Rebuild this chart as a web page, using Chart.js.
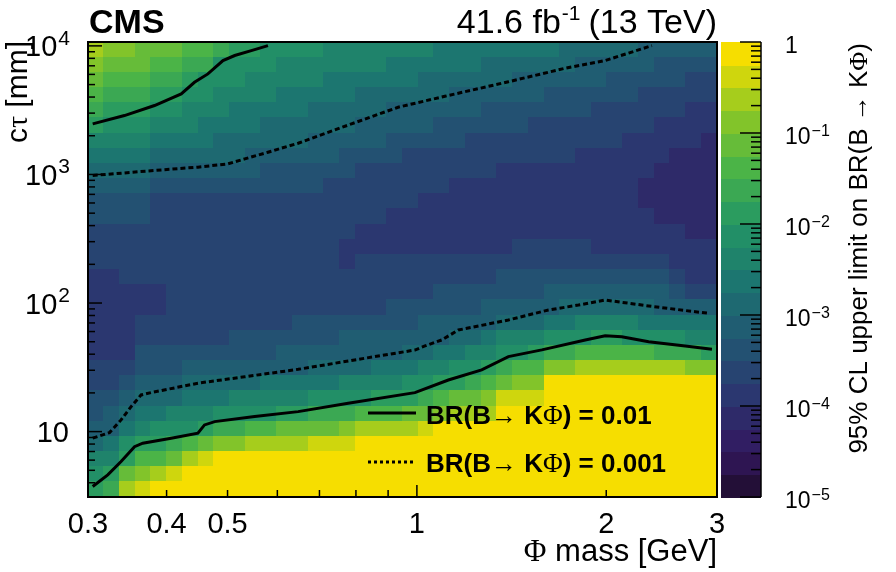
<!DOCTYPE html>
<html><head><meta charset="utf-8">
<script src="https://cdn.jsdelivr.net/npm/chart.js@4.4.1/dist/chart.umd.min.js"></script>
<style>html,body{margin:0;padding:0;background:#fff;}#wrap{width:896px;height:572px;position:relative;}</style>
</head><body><div id="wrap"><canvas id="c"></canvas></div>
<script>
// ---------- data ----------
// mass axis (GeV) and ctau axis (mm) ranges of the scan
const massRange = [0.3, 3];
const ctauRange = [3.1, 10720];
const nMassBins = 40, nCtauBins = 30;
// colour level of the 95% CL limit on BR(B->K Phi):
// level k means limit in [1e-5 * 10^(k/4), 1e-5 * 10^((k+1)/4)), 0..19 (1e-5 .. 1)
// one array per mass bin (low -> high mass), entries from high ctau (top) to low ctau (bottom)
const limitLevel = [
 [17,16,15,14,13,12,10,9,8,7,6,6,5,5,5,4,4,4,4,4,4,5,5,6,6,7,8,10,11,12],
 [16,15,14,13,12,11,10,9,8,7,6,6,5,5,5,4,4,4,4,4,4,5,5,6,7,7,9,10,12,13],
 [16,15,14,13,12,11,10,9,8,7,6,6,5,5,5,5,4,4,4,4,4,5,6,7,8,9,11,12,15,17],
 [15,15,14,13,12,11,10,9,8,7,6,6,5,5,5,5,4,4,5,5,6,6,7,8,9,10,12,14,16,18],
 [15,14,13,12,11,10,9,8,7,6,5,5,5,5,5,5,4,4,5,5,6,6,7,8,9,11,12,14,17,19],
 [15,14,13,12,11,10,9,8,7,6,5,5,5,5,5,5,5,5,5,5,6,6,7,8,10,11,13,15,18,19],
 [14,13,12,11,10,10,9,8,7,6,5,5,5,5,5,5,5,5,5,5,6,7,8,9,10,11,14,17,19,19],
 [14,13,11,11,10,9,9,8,7,6,5,5,5,5,5,5,5,5,5,5,6,7,8,9,10,12,15,18,19,19],
 [13,11,11,10,10,9,8,8,7,6,5,5,5,5,5,5,5,5,5,5,6,7,8,9,11,13,16,19,19,19],
 [12,11,11,10,9,9,8,8,7,6,5,5,5,5,5,5,5,5,5,6,6,7,8,10,11,13,16,19,19,19],
 [12,11,10,10,9,9,8,7,7,6,5,5,5,5,5,5,5,5,5,6,6,7,8,10,11,14,17,19,19,19],
 [11,11,10,10,9,8,8,7,6,6,5,5,5,5,5,5,5,5,5,6,6,7,9,10,11,14,17,19,19,19],
 [11,10,10,9,9,8,8,7,6,6,5,5,5,5,5,5,5,5,5,6,7,7,9,10,12,15,17,19,19,19],
 [11,10,10,9,9,8,8,7,6,6,5,5,5,5,5,5,5,5,6,6,7,7,9,10,12,15,17,19,19,19],
 [11,10,10,9,8,8,7,7,6,6,5,5,5,5,5,5,5,5,6,6,7,8,9,11,13,15,18,19,19,19],
 [10,10,9,9,8,8,7,7,6,5,5,5,5,5,5,5,5,5,6,6,7,8,9,11,13,15,18,19,19,19],
 [10,10,9,9,8,8,7,6,6,5,5,5,5,4,4,5,5,5,6,7,7,8,10,11,13,16,18,19,19,19],
 [10,10,9,8,8,7,7,6,5,5,5,5,4,4,5,5,5,5,6,7,7,8,10,11,14,17,19,19,19,19],
 [10,10,9,8,8,7,7,6,5,5,5,5,4,4,5,5,5,5,6,7,7,9,10,12,14,17,19,19,19,19],
 [10,9,9,8,7,7,6,6,5,5,5,4,4,4,5,5,5,6,6,7,7,9,10,12,14,17,19,19,19,19],
 [10,9,9,8,7,7,6,5,5,5,5,4,4,4,5,5,5,6,6,7,8,9,11,12,15,17,19,19,19,19],
 [10,9,8,8,7,7,6,5,5,5,4,4,4,4,5,5,5,6,7,7,8,10,11,13,15,18,19,19,19,19],
 [9,9,8,8,7,6,6,5,5,5,4,4,4,4,5,5,6,6,7,7,9,10,12,14,16,19,19,19,19,19],
 [9,9,8,7,7,6,6,5,5,4,4,4,4,4,5,5,6,6,7,8,9,11,12,15,17,19,19,19,19,19],
 [9,9,8,7,7,6,5,5,5,4,4,4,4,4,5,5,6,6,7,8,10,11,13,15,17,19,19,19,19,19],
 [9,8,8,7,6,6,5,5,5,4,4,4,4,4,5,5,6,7,7,9,10,12,14,16,17,19,19,19,19,19],
 [9,8,8,7,6,6,5,5,4,4,4,4,4,4,5,6,6,7,8,10,11,13,15,18,19,19,19,19,19,19],
 [9,8,7,7,6,6,5,5,4,4,4,4,4,5,5,6,6,7,8,10,11,14,16,18,19,19,19,19,19,19],
 [9,8,7,7,6,5,5,5,4,4,4,4,4,5,5,6,6,7,8,10,12,14,16,18,19,19,19,19,19,19],
 [9,8,7,6,6,5,5,5,4,4,4,4,4,5,5,6,7,7,9,11,13,16,19,19,19,19,19,19,19,19],
 [8,8,7,6,6,5,5,5,4,4,4,4,4,5,5,6,7,8,9,11,13,16,19,19,19,19,19,19,19,19],
 [8,7,7,6,6,5,5,4,4,4,4,4,4,5,5,6,7,8,10,11,14,17,19,19,19,19,19,19,19,19],
 [8,7,7,6,5,5,5,4,4,4,4,4,4,4,5,6,7,8,10,12,14,17,19,19,19,19,19,19,19,19],
 [8,7,6,6,5,5,5,4,4,4,4,4,4,4,5,6,7,8,10,12,14,17,19,19,19,19,19,19,19,19],
 [8,7,6,6,5,5,4,4,4,4,4,4,4,4,5,6,7,8,10,11,14,17,19,19,19,19,19,19,19,19],
 [7,7,6,5,5,5,4,4,4,3,3,4,4,4,5,6,7,8,9,11,14,17,19,19,19,19,19,19,19,19],
 [7,6,6,5,5,4,4,4,3,3,3,3,4,4,5,6,7,7,9,11,13,17,19,19,19,19,19,19,19,19],
 [7,6,6,5,5,4,4,3,3,3,3,3,4,4,4,5,6,7,9,11,13,17,19,19,19,19,19,19,19,19],
 [7,6,5,5,4,4,4,3,3,3,3,3,3,4,4,4,5,7,9,10,13,16,19,19,19,19,19,19,19,19],
 [7,6,5,5,4,4,3,3,3,3,3,3,3,4,4,4,5,7,9,10,12,16,19,19,19,19,19,19,19,19]
];
// contour lines (mass GeV, ctau mm)
const upperSolidMass = [0.3052,0.3428,0.3827,0.422,0.443,0.4653,0.4917,0.5133,0.5454,0.5797];
const upperSolidCtau = [2473,2871,3436,4227,5212,6053,7690,8414,9185,10050];
const lowerSolidMass = [0.3052,0.3225,0.3386,0.3557,0.3666,0.4068,0.4486,0.4596,0.477,0.5522,0.6475,0.7777,0.9928,1.122,1.2676,1.398,1.58,1.852,1.992,2.117,2.336,2.671,2.945];
const lowerSolidCtau = [3.74,4.61,5.85,7.64,8.13,8.89,9.72,11.27,11.96,13.08,14.3,16.62,20.1,25.2,30.2,38.3,43.2,51.6,55.7,54.7,50.0,46.4,43.7];
const upperDashedMass = [0.3052,0.3827,0.4486,0.5006,0.5325,0.5797,0.6475,0.787,0.9336,1.108,1.398,1.721,1.992,2.092,2.364];
const upperDashedCtau = [982,1074,1140,1208,1321,1489,1750,2473,3334,4055,5260,6700,7690,8300,10050];
const lowerDashedMass = [0.3052,0.3245,0.3386,0.3513,0.3643,0.3779,0.4486,0.5325,0.6475,0.8266,0.9928,1.03,1.095,1.164,1.398,1.619,1.807,1.992,2.336,2.772,2.91];
const lowerDashedCtau = [8.89,9.82,12.33,15.64,19.28,20.1,23.8,26.7,30.5,37.2,43.1,46.4,51.6,61.7,73.8,88.3,96.4,105.5,94.9,85.5,83.2];
// tick labels
const massTickValues = [0.4,0.5,0.6,0.7,0.8,0.9,1,2];
const massLabelValues = [0.3,0.4,0.5,1,2,3];
const massLabels = ['0.3','0.4','0.5','1','2','3'];
const ctauLabelValues = [10,100,1000,10000];
const ctauLabels = [['10',''],['10','2'],['10','3'],['10','4']];
const limitLabelValues = [1,1e-1,1e-2,1e-3,1e-4,1e-5];
const limitLabels = [['1',''],['10','\u22121'],['10','\u22122'],['10','\u22123'],['10','\u22124'],['10','\u22125']];
const legendLabels = ['BR(B\u2192 K\u03A6) = 0.01','BR(B\u2192 K\u03A6) = 0.001'];

// ---------- derived bin edges ----------
const massEdges = [], ctauEdges = [];
for (let i = 0; i <= nMassBins; i++) massEdges.push(massRange[0] * Math.pow(massRange[1]/massRange[0], i/nMassBins));
for (let j = 0; j <= nCtauBins; j++) ctauEdges.push(ctauRange[1] * Math.pow(ctauRange[0]/ctauRange[1], j/nCtauBins));

// ---------- palette (ROOT kViridis) ----------
const stopT=[0,.125,.25,.375,.5,.625,.75,.875,1];
const stopR=[26,51,43,33,28,35,74,144,246], stopG=[9,24,55,87,118,150,180,200,222], stopB=[30,96,112,114,112,101,72,35,0];
function viridis(t){
  t=Math.max(0,Math.min(1,t));
  let s=0; while(s<7 && t>stopT[s+1]) s++;
  const f=(t-stopT[s])/(stopT[s+1]-stopT[s]);
  const c=a=>Math.round(a[s]+(a[s+1]-a[s])*f);
  return `rgb(${c(stopR)},${c(stopG)},${c(stopB)})`;
}
const bandColors=[]; for(let k=0;k<20;k++){ bandColors.push(viridis(Math.floor((k+0.99)*255/20)/254)); }
function colorForLimit(v){ let k=Math.floor((Math.log10(v)+5)*4); k=Math.max(0,Math.min(19,k)); return bandColors[k]; }
function limitFromLevel(k){ return Math.pow(10,-5+(k+0.5)/4); }

const SANS='"Liberation Sans", Arial, Helvetica, sans-serif';
const SERIF='"Liberation Serif", "DejaVu Serif", serif';
const pts=(m,c)=>m.map((v,i)=>({x:v,y:c[i]}));

const heatmapPlugin={
  id:'heatmap',
  beforeDatasetsDraw(chart){
    const {ctx,chartArea:a,scales:{x,y}}=chart;
    ctx.save(); ctx.beginPath(); ctx.rect(a.left,a.top,a.right-a.left,a.bottom-a.top); ctx.clip();
    for(let i=0;i<limitLevel.length;i++){
      const x0=x.getPixelForValue(massEdges[i]), x1=x.getPixelForValue(massEdges[i+1]);
      for(let j=0;j<limitLevel[i].length;j++){
        const y0=y.getPixelForValue(ctauEdges[j]), y1=y.getPixelForValue(ctauEdges[j+1]);
        ctx.fillStyle=colorForLimit(limitFromLevel(limitLevel[i][j]));
        ctx.fillRect(Math.floor(x0),Math.floor(y0),Math.ceil(x1-x0)+1,Math.ceil(y1-y0)+1);
      }
    }
    ctx.restore();
  }
};

// draw runs of text [{t,f,dy,gap}] starting/ending at x
function runs(ctx,parts,x,y,align){
  let tot=0; const ws=parts.map(p=>{ctx.font=p.f; const w=ctx.measureText(p.t).width+(p.gap||0); tot+=w; return w;});
  let sx = align==='right'? x-tot : x;
  ctx.textAlign='left';
  parts.forEach((p,i)=>{ ctx.font=p.f; ctx.fillText(p.t,sx,y+(p.dy||0)); sx+=ws[i]; });
}
function supText(ctx,base,sup,x,y,align,bf,sf,raise){
  const parts=[{t:base,f:bf,gap:1}]; if(sup) parts.push({t:sup,f:sf,dy:-raise});
  runs(ctx,parts,x,y,align);
}

const decorPlugin={
  id:'decor',
  afterDraw(chart){
    const {ctx,chartArea:a,scales:{x,y,yColor}}=chart;
    ctx.save();
    ctx.fillStyle='#000'; ctx.strokeStyle='#000'; ctx.textBaseline='alphabetic';
    // frame
    ctx.lineWidth=2; ctx.strokeRect(a.left,a.top,a.right-a.left,a.bottom-a.top);
    // x ticks
    ctx.lineWidth=1.5;
    massTickValues.forEach(v=>{const px=x.getPixelForValue(v); const L=(v===1)?12:7; ctx.beginPath(); ctx.moveTo(px,a.bottom); ctx.lineTo(px,a.bottom-L); ctx.stroke();});
    // y ticks
    for(let d=1; d<=10000; d*=10){ for(let m=1;m<=9;m++){ const v=d*m; if(v<ctauRange[0]||v>ctauRange[1]) continue; const py=y.getPixelForValue(v); const L=(m===1)?14:7; ctx.beginPath(); ctx.moveTo(a.left,py); ctx.lineTo(a.left+L,py); ctx.stroke(); } }
    // x labels
    ctx.font='29px '+SANS; ctx.textAlign='center';
    massLabelValues.forEach((v,i)=>{ctx.fillText(massLabels[i], x.getPixelForValue(v), 533);});
    // y labels
    ctauLabelValues.forEach((v,i)=>{ const py=y.getPixelForValue(v); supText(ctx,ctauLabels[i][0],ctauLabels[i][1],70,py+10.5,'right','29px '+SANS,'21px '+SANS,11.5); });
    // colour bar
    const cbL=721, cbR=761;
    for(let k=0;k<20;k++){
      const y0=yColor.getPixelForValue(Math.pow(10,-5+(k+1)/4)), y1=yColor.getPixelForValue(Math.pow(10,-5+k/4));
      ctx.fillStyle=bandColors[k]; ctx.fillRect(cbL,Math.floor(y0),cbR-cbL,Math.ceil(y1-y0)+1);
    }
    ctx.fillStyle='#000'; ctx.lineWidth=1.5;
    ctx.beginPath(); ctx.moveTo(cbR,a.top); ctx.lineTo(cbR,a.bottom); ctx.stroke();
    for(let e=-5;e<=0;e++){ for(let m=1;m<=9;m++){ const v=Math.pow(10,e)*m; if(v>1.0001) continue; const py=yColor.getPixelForValue(v); const L=(m===1)?21:10; ctx.beginPath(); ctx.moveTo(cbR,py); ctx.lineTo(cbR-L,py); ctx.stroke(); } }
    limitLabelValues.forEach((v,i)=>{ const py=yColor.getPixelForValue(v); supText(ctx,limitLabels[i][0],limitLabels[i][1],785,py+11,'left','23px '+SANS,'16px '+SANS,8); });
    // axis titles
    runs(ctx,[{t:'\u03A6',f:'31px '+SERIF},{t:' mass [GeV]',f:'31px '+SANS}],a.right,561,'right');
    ctx.save(); ctx.translate(27,a.top-1); ctx.rotate(-Math.PI/2);
    runs(ctx,[{t:'c',f:'30px '+SANS},{t:'\u03C4',f:'30px '+SERIF},{t:' [mm]',f:'30px '+SANS}],0,0,'right'); ctx.restore();
    ctx.save(); ctx.translate(867,43); ctx.rotate(-Math.PI/2);
    runs(ctx,[{t:'95% CL upper limit on BR(B \u2192 K',f:'26px '+SANS},{t:'\u03A6',f:'26px '+SERIF},{t:')',f:'26px '+SANS}],0,0,'right'); ctx.restore();
    // header
    ctx.font='bold 34px '+SANS; ctx.textAlign='left'; ctx.fillText('CMS',89,33);
    runs(ctx,[{t:'41.6 fb',f:'34px '+SANS,gap:1},{t:'-1',f:'21px '+SANS,dy:-13,gap:8},{t:'(13 TeV)',f:'34px '+SANS}],a.right,33,'right');
    // legend
    ctx.lineWidth=3; ctx.setLineDash([]); ctx.beginPath(); ctx.moveTo(368,413); ctx.lineTo(416,413); ctx.stroke();
    ctx.setLineDash([3,3]); ctx.beginPath(); ctx.moveTo(368,462); ctx.lineTo(416,462); ctx.stroke(); ctx.setLineDash([]);
    const lb='bold 26px '+SANS, ls='27px '+SERIF;
    runs(ctx,[{t:'BR(B\u2192 K',f:lb},{t:'\u03A6',f:ls},{t:') = 0.01',f:lb}],426,424,'left');
    runs(ctx,[{t:'BR(B\u2192 K',f:lb},{t:'\u03A6',f:ls},{t:') = 0.001',f:lb}],426,472,'left');
    ctx.restore();
  }
};

new Chart(document.getElementById('c'),{
  type:'scatter',
  data:{datasets:[
    {label:legendLabels[0],data:pts(upperSolidMass,upperSolidCtau),showLine:true,borderColor:'#000',borderWidth:3,pointRadius:0,tension:0},
    {label:legendLabels[0],data:pts(lowerSolidMass,lowerSolidCtau),showLine:true,borderColor:'#000',borderWidth:3,pointRadius:0,tension:0},
    {label:legendLabels[1],data:pts(upperDashedMass,upperDashedCtau),showLine:true,borderColor:'#000',borderWidth:3,borderDash:[5,3],pointRadius:0,tension:0},
    {label:legendLabels[1],data:pts(lowerDashedMass,lowerDashedCtau),showLine:true,borderColor:'#000',borderWidth:3,borderDash:[5,3],pointRadius:0,tension:0}
  ]},
  options:{
    responsive:true, maintainAspectRatio:false, animation:false,
    layout:{padding:{left:88,right:179,top:42,bottom:75}},
    plugins:{legend:{display:false},tooltip:{enabled:false}},
    scales:{
      x:{type:'logarithmic',min:massRange[0],max:massRange[1],display:false},
      y:{type:'logarithmic',min:ctauRange[0],max:ctauRange[1],display:false},
      yColor:{type:'logarithmic',axis:'y',position:'right',min:1e-5,max:1,display:false}
    }
  },
  plugins:[heatmapPlugin,decorPlugin]
});
</script></body></html>
